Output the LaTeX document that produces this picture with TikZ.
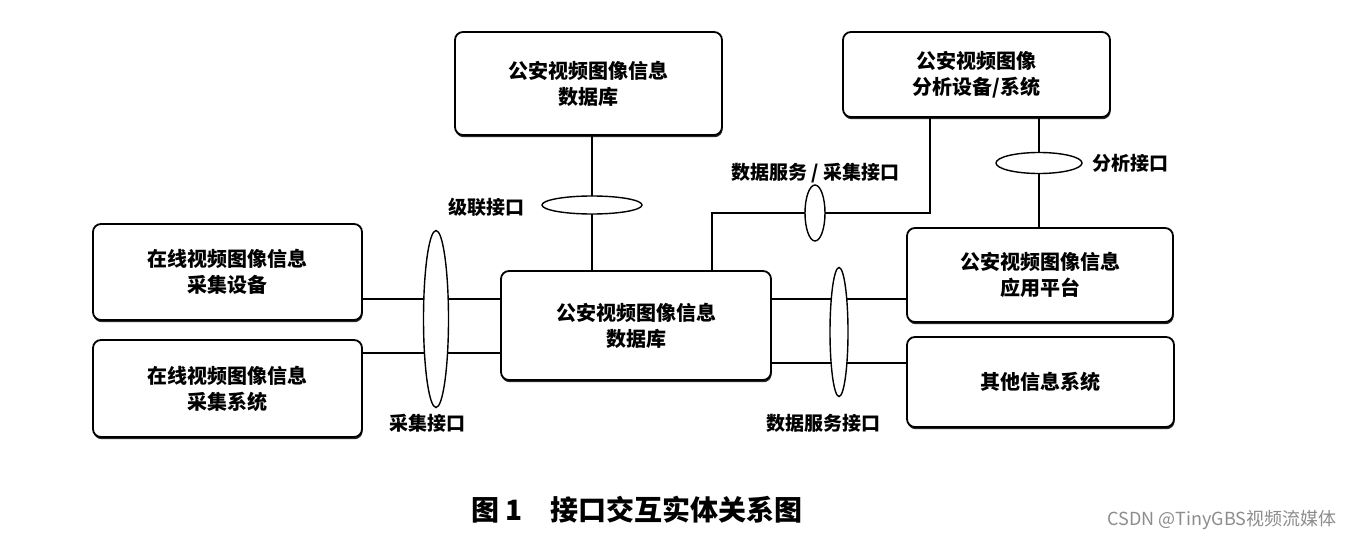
\documentclass[tikz,border=0pt]{standalone}
\usepackage{fontspec}
\setmainfont{Noto Sans CJK SC}
\usetikzlibrary{shapes.geometric,shadows,backgrounds}
\begin{document}
\begin{tikzpicture}[x=0.5pt,y=-0.5pt,
  box/.style={draw, line width=0.9pt, rounded corners=4pt, fill=white,
    align=center, font=\fontsize{10pt}{13pt}\selectfont\bfseries,
    drop shadow={shadow xshift=0.3pt, shadow yshift=-1.1pt, fill=black, opacity=0.85}},
  ifc/.style={draw, ellipse, line width=0.7pt, fill=white, inner sep=0pt},
  lbl/.style={font=\fontsize{9.5pt}{12pt}\selectfont\bfseries, inner sep=1pt},
  conn/.style={line width=0.7pt}]
\useasboundingbox (0,0) rectangle (1359,540);
% boxes
\node[box, minimum width=133.5pt, minimum height=51.5pt] (dbtop) at (588.5,83.5) {公安视频图像信息\\数据库};
\node[box, minimum width=133.5pt, minimum height=42.5pt] (ana) at (976.5,74.5) {公安视频图像\\分析设备/系统};
\node[box, minimum width=134.5pt, minimum height=48pt] (ltop) at (227.5,272) {在线视频图像信息\\采集设备};
\node[box, minimum width=134.5pt, minimum height=48.5pt] (lbot) at (227.5,388.5) {在线视频图像信息\\采集系统};
\node[box, minimum width=135pt, minimum height=54.5pt] (cdb) at (636,325.5) {公安视频图像信息\\数据库};
\node[box, minimum width=133pt, minimum height=47pt] (app) at (1040,275) {公安视频图像信息\\应用平台};
\node[box, minimum width=133.5pt, minimum height=45pt] (oth) at (1040.5,382) {其他信息系统};
% interface ellipses
\node[ifc, minimum width=50pt, minimum height=9pt] (eCas) at (592,205) {};
\node[ifc, minimum width=10pt, minimum height=28pt] (eDS) at (815,213) {};
\node[ifc, minimum width=43pt, minimum height=10.5pt] (eAna) at (1039,163) {};
\node[ifc, minimum width=12.5pt, minimum height=88.5pt] (eCol) at (436,319) {};
\node[ifc, minimum width=9pt, minimum height=64.5pt] (eSvc) at (839,332) {};
% connectors
\begin{scope}[on background layer]
\draw[conn] (eCas |- dbtop.south) -- (eCas |- cdb.north);
\draw[conn] ([xshift=38pt]cdb.north) |- (eDS.center) -| ([xshift=-23.25pt]ana.south);
\draw[conn] (eAna |- ana.south) -- (eAna |- app.north);
\draw[conn] ([yshift=-13.5pt]ltop.east) -- ([yshift=-13.5pt]ltop.east -| cdb.west);
\draw[conn] ([yshift=17.75pt]lbot.east) -- ([yshift=17.75pt]lbot.east -| cdb.west);
\draw[conn] ([yshift=-12pt]app.west) -- ([yshift=-12pt]app.west -| cdb.east);
\draw[conn] ([yshift=9.5pt]oth.west) -- ([yshift=9.5pt]oth.west -| cdb.east);
\end{scope}
% labels
\node[lbl] (lCas) at (486,207) {级联接口};
\node[lbl] (lDS) at (815,173) {数据服务 / 采集接口};
\node[lbl] (lAna) at (1130,163) {分析接口};
\node[lbl] (lCol) at (427,423) {采集接口};
\node[lbl] (lSvc) at (823,423) {数据服务接口};
% caption and watermark
\node[font=\fontsize{14pt}{16pt}\selectfont\bfseries] (cap) at (637,510) {图\ 1\quad 接口交互实体关系图};
\node[font=\fontsize{9pt}{10pt}\selectfont, text=black!45] (wm) at (1222,520) {CSDN @TinyGBS视频流媒体};
\end{tikzpicture}
\end{document}
